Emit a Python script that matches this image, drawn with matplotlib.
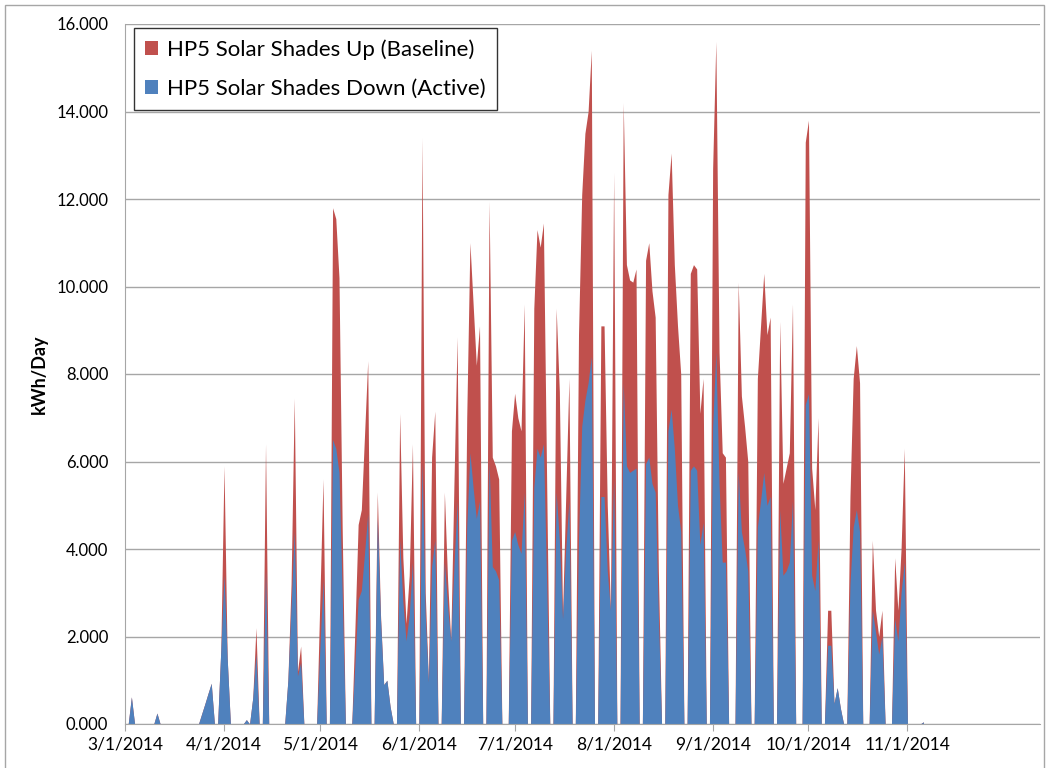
import numpy as np
import pandas as pd
import matplotlib
matplotlib.use('Agg')
import matplotlib.pyplot as plt
import matplotlib.dates as mdates
from matplotlib.patches import Rectangle
from matplotlib.ticker import FuncFormatter

# daily values from 3/1/2014, one row per week
baseline = [
    0, 0, 0.62, 0, 0, 0, 0,
    0, 0, 0, 0.25, 0, 0, 0,
    0, 0, 0, 0, 0, 0, 0,
    0, 0, 0, 0.23, 0.46, 0.70, 0.93,
    0, 0, 1.7, 5.9, 1.5, 0, 0,
    0, 0, 0, 0.1, 0, 0.6, 2.2,
    0, 0, 6.4, 0, 0, 0, 0,
    0, 0, 1.0, 3.2, 7.45, 1.2, 1.78,
    0, 0, 0, 0, 0, 2.8, 5.6,
    0, 0, 11.8, 11.55, 10.2, 4.5, 0,
    0, 0, 2.2, 4.56, 4.9, 6.6, 8.3,
    0, 0, 5.3, 2.5, 0.9, 1.0, 0.4,
    0, 0, 7.1, 3.8, 2.3, 3.4, 6.4,
    0, 0, 13.4, 3.0, 1.0, 6.1, 7.15,
    0, 0, 5.3, 3.3, 1.9, 5.5, 8.85,
    0, 0, 7.0, 11.0, 9.6, 8.2, 9.1,
    0, 0, 11.95, 6.1, 5.9, 5.6, 0,
    0, 0, 6.7, 7.56, 7.0, 6.7, 9.6,
    0, 0, 9.5, 11.3, 10.9, 11.45, 5.7,
    0, 0, 9.5, 7.6, 2.5, 5.2, 7.9,
    0, 0, 8.9, 12.1, 13.5, 14.0, 15.4,
    0, 0, 9.1, 9.1, 5.0, 2.6, 12.6,
    0, 0, 14.2, 10.5, 10.15, 10.1, 10.4,
    0, 0, 10.6, 11.0, 9.9, 9.3, 3.5,
    0, 0, 12.1, 13.05, 10.5, 9.1, 8.0,
    0, 0, 10.3, 10.5, 10.4, 7.1, 7.9,
    0, 0, 12.7, 15.6, 8.5, 6.2, 6.1,
    0, 0, 0, 10.1, 7.5, 6.8, 6.0,
    0, 0, 7.9, 9.1, 10.3, 8.9, 9.3,
    0, 0, 9.2, 5.5, 5.85, 6.2, 9.6,
    0, 0, 0, 13.3, 13.8, 5.85, 4.9,
    7.0, 0, 0, 2.6, 2.6, 0.47, 0.83,
    0.36, 0, 0, 5.2, 7.9, 8.65, 7.8,
    0, 0, 0, 4.2, 2.6, 2.0, 2.6,
    0, 0, 0, 3.8, 2.6, 4.0, 6.3,
    0, 0, 0, 0, 0, 0.05,
]

active = [
    0, 0, 0.62, 0, 0, 0, 0,
    0, 0, 0, 0.25, 0, 0, 0,
    0, 0, 0, 0, 0, 0, 0,
    0, 0, 0, 0.23, 0.46, 0.70, 0.93,
    0, 0, 1.7, 3.4, 1.5, 0, 0,
    0, 0, 0, 0.1, 0, 0.6, 1.6,
    0, 0, 3.5, 0, 0, 0, 0,
    0, 0, 1.0, 2.7, 4.4, 1.1, 1.4,
    0, 0, 0, 0, 0, 1.7, 3.3,
    0, 0, 6.5, 6.3, 5.75, 3.0, 0,
    0, 0, 1.4, 2.85, 3.05, 3.9, 4.8,
    0, 0, 4.7, 2.4, 0.9, 1.0, 0.4,
    0, 0, 4.2, 2.8, 1.9, 2.5, 3.7,
    0, 0, 6.0, 2.5, 0.96, 3.6, 4.2,
    0, 0, 3.7, 2.7, 1.9, 3.6, 5.1,
    0, 0, 4.5, 6.2, 5.4, 4.7, 5.1,
    0, 0, 6.0, 3.6, 3.5, 3.3, 0,
    0, 0, 4.2, 4.4, 4.1, 3.9, 5.3,
    0, 0, 5.4, 6.3, 6.1, 6.4, 3.3,
    0, 0, 5.3, 4.2, 2.4, 4.0, 5.1,
    0, 0, 4.2, 6.8, 7.4, 7.8, 8.4,
    0, 0, 5.2, 5.2, 3.5, 2.6, 5.6,
    0, 0, 7.8, 5.9, 5.75, 5.8, 5.85,
    0, 0, 5.95, 6.1, 5.5, 5.3, 2.5,
    0, 0, 6.7, 7.2, 6.3, 5.0, 4.4,
    0, 0, 5.8, 5.9, 5.8, 4.1, 4.6,
    0, 0, 6.8, 8.5, 5.5, 3.7, 3.7,
    0, 0, 0, 5.75, 4.4, 4.0, 3.5,
    0, 0, 4.5, 5.1, 5.75, 5.0, 5.2,
    0, 0, 4.9, 3.4, 3.5, 3.7, 5.1,
    0, 0, 0, 7.3, 7.55, 3.4, 3.05,
    4.2, 0, 0, 1.8, 1.8, 0.47, 0.83,
    0.36, 0, 0, 3.2, 4.5, 4.9, 4.4,
    0, 0, 0, 2.6, 2.1, 1.6, 2.0,
    0, 0, 0, 2.4, 1.9, 3.0, 3.7,
    0, 0, 0, 0, 0, 0.05,
]

dates = pd.date_range('2014-03-01', periods=len(baseline), freq='D')
month_ticks = pd.date_range('2014-03-01', '2014-11-01', freq='MS')

plt.rcParams['font.family'] = ['Lato', 'DejaVu Sans']

fig = plt.figure(figsize=(10.47, 7.68), dpi=100)
ax = fig.add_axes([125 / 1047, 1 - 724 / 768, (1040 - 125) / 1047, (724 - 24) / 768])

ax.fill_between(dates, baseline, 0, color='#C0504D', linewidth=0,
                label='HP5 Solar Shades Up (Baseline)', zorder=2)
ax.fill_between(dates, active, 0, color='#4F81BD', linewidth=0,
                label='HP5 Solar Shades Down (Active)', zorder=3)

ax.set_ylim(0, 16)
ax.set_yticks(np.arange(0, 17, 2))
ax.yaxis.set_major_formatter(FuncFormatter(lambda v, p: '%.3f' % v))
ax.set_xlim(pd.Timestamp('2014-03-01'), pd.Timestamp('2014-03-01') + pd.Timedelta(days=286.5))
ax.set_xticks(month_ticks)
ax.xaxis.set_major_formatter(FuncFormatter(
    lambda v, p: '%d/%d/%d' % (mdates.num2date(v).month, mdates.num2date(v).day, mdates.num2date(v).year)))

ax.grid(axis='y', color='#a6a6a6', linewidth=1)
ax.set_axisbelow(True)
for s in ['top', 'right']:
    ax.spines[s].set_visible(False)
for s in ['left', 'bottom']:
    ax.spines[s].set_color('#a6a6a6')
    ax.spines[s].set_zorder(4)
ax.tick_params(axis='y', length=0, labelsize=12, pad=12)
ax.tick_params(axis='x', length=5, direction='out', color='#a6a6a6', labelsize=12.5, pad=4)
ax.set_ylabel('kWh/Day', fontsize=13, fontweight='bold', labelpad=6)

leg = ax.legend(loc='upper left', bbox_to_anchor=(0.0098, 0.994), borderaxespad=0, fontsize=16,
                frameon=True, fancybox=False, handlelength=0.6, handleheight=0.6,
                handletextpad=0.4, borderpad=0.5, labelspacing=0.85)
leg.get_frame().set_edgecolor('black')
leg.get_frame().set_linewidth(1)

fig.patches.append(Rectangle((5 / 1047, -0.1), 1039 / 1047, 1.1 - 5 / 768, transform=fig.transFigure,
                             fill=False, edgecolor='#a6a6a6', linewidth=1))

plt.savefig('out.png', dpi=100)
